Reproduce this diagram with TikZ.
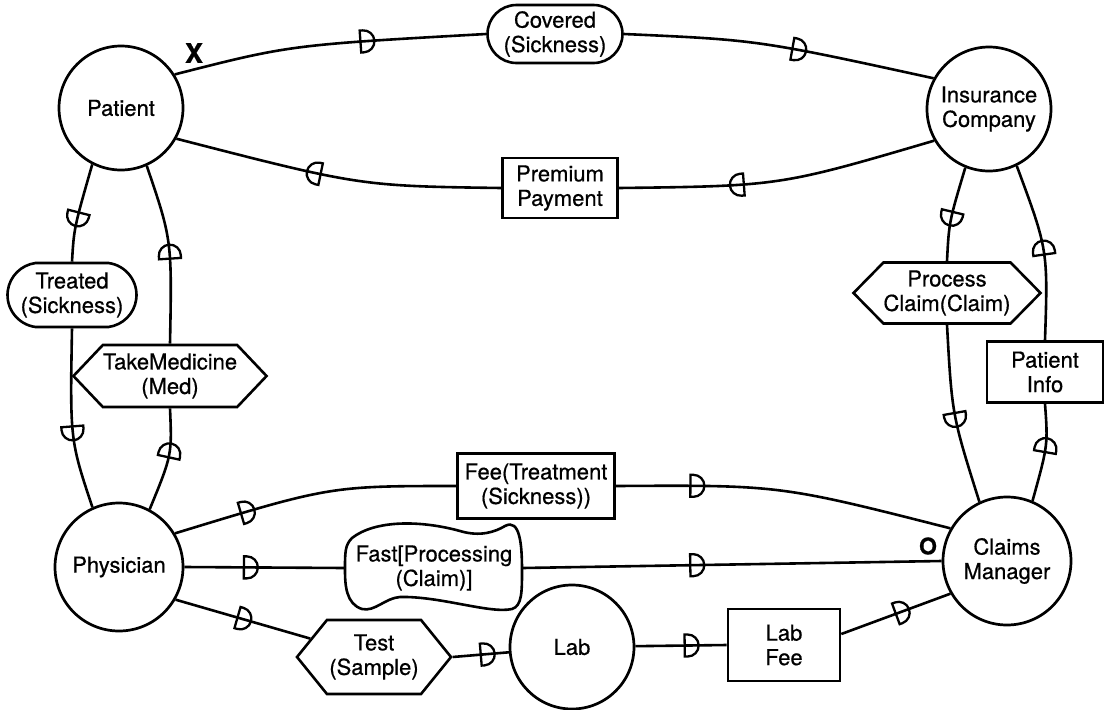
\documentclass[tikz,border=0pt]{standalone}
\usepackage{fontspec}
\setmainfont{TeX Gyre Heros}[FakeBold=0.6]
\usetikzlibrary{shapes.misc,shapes.symbols,decorations.markings}

\newcommand\lblfont{\fontsize{22}{24.5}\selectfont}

\tikzset{
  flow/.style={line width=2.6pt},
  % half-disc flow marker, round side facing the direction of flow
  dmark/.style={postaction={decorate,decoration={markings,
      mark=at position #1 with {\draw[line width=2.3pt]
        (0pt,-11pt) -- (0pt,11pt) -- (3pt,11pt)
        arc[start angle=90,end angle=-90,radius=11pt] -- cycle;}}}},
  agent/.style={circle, draw, line width=2.7pt, inner sep=0pt,
    align=center, font=\lblfont},
  box/.style={rectangle, draw, line width=2.6pt, inner sep=0pt,
    align=center, font=\lblfont},
  pill/.style={rounded rectangle, draw, line width=2.6pt, inner sep=0pt,
    align=center, font=\lblfont},
  hexa/.style={signal, signal to=east and west, draw, line width=2.6pt,
    inner sep=0pt, align=center, font=\lblfont},
}

\begin{document}
\begin{tikzpicture}[x=1pt,y=-1pt]
\useasboundingbox (0,0) rectangle (1104,710);

% participants
\node[agent, minimum size=124pt] (patient)   at (121,108)  {Patient};
\node[agent, minimum size=124pt] (insurance) at (989,109)  {Insurance\\Company};
\node[agent, minimum size=128pt] (physician) at (119,567)  {Physician};
\node[agent, minimum size=128pt] (claims)    at (1007,561) {Claims\\Manager};
\node[agent, minimum size=124pt] (lab)       at (572,647)  {Lab};

% messages
\node[pill, minimum width=135pt, minimum height=58pt]
  (covered) at (555,34) {Covered\\(Sickness)};
\node[box, minimum width=115pt, minimum height=60pt] (premium) at (560,188) {Premium\\Payment};
\node[pill, rounded rectangle arc length=165, minimum width=129pt, minimum height=64pt]
  (treated) at (72,295) {Treated\\(Sickness)};
\node[hexa, signal pointer angle=93, minimum width=189pt, minimum height=62pt]
  (takemed) at (170,376) {TakeMedicine\\(Med)};
\node[hexa, signal pointer angle=91, minimum width=187pt, minimum height=61pt]
  (process) at (947,293) {Process\\Claim(Claim)};
\node[box, minimum width=116pt, minimum height=61pt] (info) at (1045,372) {Patient\\Info};
\node[box, minimum width=157pt, minimum height=65pt] (fee) at (536,486) {Fee(Treatment\\(Sickness))};
\node[inner sep=0pt, minimum width=177pt, minimum height=84pt, align=center, font=\lblfont]
  (fast) at (434,568) {Fast[Processing\\(Claim)]};
\node[hexa, signal pointer angle=102, minimum width=154pt, minimum height=74pt]
  (test) at (374,657) {Test\\(Sample)};
\node[box, minimum width=112pt, minimum height=72pt] (labfee) at (784,645) {Lab\\Fee};

% wavy outline of the fast-processing message
\draw[line width=2.6pt] (352,538)
  .. controls (375,520) and (420,520) .. (460,531)
  .. controls (480,537) and (495,532) .. (505,526)
  .. controls (520,518) and (522,545) .. (522,570)
  .. controls (522,592) and (522,606) .. (512,609)
  .. controls (490,614) and (440,596) .. (400,597)
  .. controls (385,598) and (375,612) .. (362,609)
  .. controls (346,604) and (345,585) .. (345,570)
  .. controls (345,552) and (345,545) .. (352,538) -- cycle;

% markers
\node[font=\bfseries\fontsize{27}{27}\selectfont, inner sep=0pt] (xmark) at (194,53) {X};
\node[font=\bfseries\fontsize{23}{23}\selectfont, inner sep=0pt] (omark) at (928,546) {O};

% connectors
\draw[flow, dmark=0.6]  (patient.32) .. controls (290,45) .. (covered.west);
\draw[flow, dmark=0.54] (covered.east) .. controls (758,40) .. (insurance.151);
\draw[flow, dmark=0.61] (insurance.210) .. controls (780,186) .. (premium.east);
\draw[flow, dmark=0.55] (premium.west) .. controls (360,186) .. (patient.-29);
\draw[flow, dmark=0.5]  (patient.-117) .. controls (74,228) .. (treated.north);
\draw[flow, dmark=0.54] (treated.south) .. controls (70,440) .. (physician.114);
\draw[flow, dmark=0.53] (physician.62) .. controls (172,455) .. (takemed.south);
\draw[flow, dmark=0.47] (takemed.north) .. controls (172,240) .. (patient.-66);
\draw[flow, dmark=0.48] (insurance.-112) .. controls (949,222) .. (process.north);
\draw[flow, dmark=0.49] (process.south) .. controls (952,415) .. (claims.115);
\draw[flow, dmark=0.51] (claims.67) .. controls (1048,445) .. (info.south);
\draw[flow, dmark=0.48] (info.north) .. controls (1048,250) .. (insurance.-64);
\draw[flow, dmark=0.24] (physician.31) .. controls (330,486) .. (fee.west);
\draw[flow, dmark=0.22] (fee.east) .. controls (780,485) .. (claims.150);
\draw[flow, dmark=0.37] (physician.east) -- (fast.west);
\draw[flow, dmark=0.4]  (fast.east) -- (claims.west);
\draw[flow, dmark=0.46] (physician.-30) -- (test);
\draw[flow, dmark=0.5]  (test.east) -- (lab);
\draw[flow, dmark=0.54] (lab) -- (labfee.west);
\draw[flow, dmark=0.5]  ([yshift=11pt]labfee.east) -- (claims.210);
\end{tikzpicture}
\end{document}
